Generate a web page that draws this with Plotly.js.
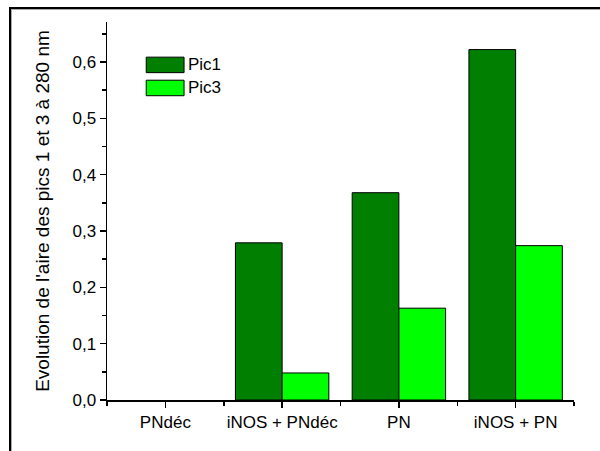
<!DOCTYPE html>
<html>
<head>
<meta charset="utf-8">
<script src="https://cdn.plot.ly/plotly-3.0.1.min.js"></script>
<style>
  html, body { margin: 0; padding: 0; background: #fff; }
  #wrap { position: relative; width: 600px; height: 451px; overflow: hidden; }
  #frame { position: absolute; left: 9px; top: 7px; width: 620px; height: 470px;
           border-top: 2px solid #000; border-left: 2px solid #000; box-shadow: 1px 1px 0 #aaa inset; }
  #chart { position: absolute; left: 0; top: 0; width: 600px; height: 451px; }
</style>
</head>
<body>
<div id="wrap">
  <div id="frame"></div>
  <div id="chart"></div>
</div>
<script>
const categories = ["PNdéc", "iNOS + PNdéc", "PN", "iNOS + PN"];
const pic1 = [null, 0.279, 0.368, 0.622];
const pic3 = [null, 0.048, 0.163, 0.274];
const seriesNames = ["Pic1", "Pic3"];
const seriesColors = ["#007f00", "#00ff00"];
const yTitle = "Evolution de l'aire des pics 1 et 3 à 280 nm";

const idx = categories.map((_, i) => i);
const font = "Liberation Sans, Arial, sans-serif";

const traces = [pic1, pic3].map((vals, k) => ({
  type: "bar",
  x: idx,
  y: vals,
  name: seriesNames[k],
  marker: { color: seriesColors[k], line: { color: "#000", width: 1 } },
  showlegend: false,
  hoverinfo: "x+y"
}));

// custom legend (long swatches like the original)
const shapes = [];
const annotations = [];
seriesNames.forEach((n, k) => {
  const y0 = 0.866 - k * 0.061;
  shapes.push({
    type: "rect", xref: "paper", yref: "paper",
    x0: 0.084, x1: 0.165, y0: y0, y1: y0 + 0.041,
    fillcolor: seriesColors[k], line: { color: "#000", width: 1 }
  });
  annotations.push({
    xref: "paper", yref: "paper", x: 0.169, y: y0 + 0.0205,
    xanchor: "left", yanchor: "middle", showarrow: false,
    text: n, font: { family: font, size: 17, color: "#000" }
  });
});

const layout = {
  width: 600, height: 451,
  margin: { l: 107, r: 26, t: 22, b: 51, pad: 0 },
  paper_bgcolor: "rgba(0,0,0,0)",
  plot_bgcolor: "rgba(0,0,0,0)",
  separators: ", ",
  barmode: "group",
  bargap: 0.2,
  bargroupgap: 0,
  font: { family: font, size: 16, color: "#000" },
  xaxis: {
    range: [-0.5, 3.5],
    tickmode: "array",
    tickvals: idx,
    ticktext: categories,
    ticks: "outside", ticklen: 6, tickwidth: 1.5, tickcolor: "#000",
    minor: { tickmode: "linear", tick0: -0.5, dtick: 1, ticks: "outside", ticklen: 4, tickwidth: 1.5, tickcolor: "#000" },
    showline: true, linecolor: "#000", linewidth: 1.5,
    showgrid: false, zeroline: false,
    tickfont: { family: font, size: 17, color: "#000" },
    fixedrange: true
  },
  yaxis: {
    range: [0, 0.671],
    tickmode: "linear", tick0: 0, dtick: 0.1, tickformat: ".1f",
    ticks: "outside", ticklen: 6, tickwidth: 1.5, tickcolor: "#000",
    minor: { tickmode: "linear", tick0: 0.05, dtick: 0.1, ticks: "outside", ticklen: 4, tickwidth: 1.5, tickcolor: "#000" },
    showline: true, linecolor: "#000", linewidth: 1.5,
    showgrid: false, zeroline: false,
    tickfont: { family: font, size: 17, color: "#000" },
    title: { text: yTitle, font: { family: font, size: 19, color: "#000" }, standoff: 18 },
    fixedrange: true
  },
  shapes: shapes,
  annotations: annotations
};

Plotly.newPlot("chart", traces, layout, { displayModeBar: false, staticPlot: true });
</script>
</body>
</html>
